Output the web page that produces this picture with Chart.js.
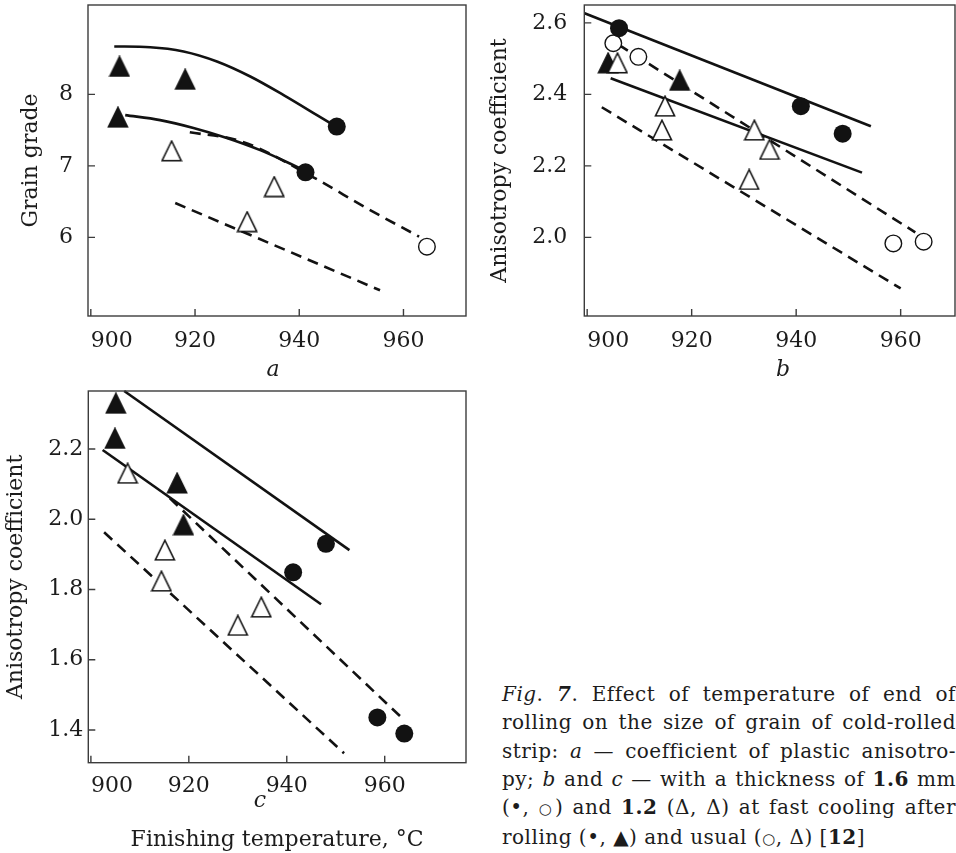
<!DOCTYPE html>
<html>
<head>
<meta charset="utf-8">
<script src="https://cdn.jsdelivr.net/npm/chart.js@4.4.1/dist/chart.umd.min.js"></script>
<style>
  body { margin: 0; background: #fff; width: 956px; height: 853px; position: relative; overflow: hidden;
         font-family: 'DejaVu Serif', serif; color: #1c1c1c; }
  canvas { position: absolute; }
  .sub { position: absolute; width: 40px; text-align: center; font-style: italic; font-size: 22px; line-height: 26px; }
  .cap { position: absolute; left: 502px; top: 680px; width: 454px; font-size: 20px; line-height: 28.3px; letter-spacing: 0.5px; }
  .cap div { text-align: justify; text-align-last: justify; }
  .cap div.last { text-align-last: left; }
  .ring { font-size: 15px; }
</style>
</head>
<body>
<canvas id="chartA" width="480" height="385" style="left:0;top:0"></canvas>
<canvas id="chartB" width="476" height="385" style="left:480px;top:0"></canvas>
<canvas id="chartC" width="480" height="468" style="left:0;top:385px"></canvas>
<div class="sub" style="left:253px;top:356px">a</div>
<div class="sub" style="left:763px;top:356px">b</div>
<div class="sub" style="left:240px;top:787px">c</div>
<div class="cap">
  <div><i>Fig</i>. <b><i>7</i></b>. Effect of temperature of end of</div>
  <div>rolling on the size of grain of cold-rolled</div>
  <div>strip: <i>a</i> — coefficient of plastic anisotro-</div>
  <div>py; <i>b</i> and <i>c</i> — with a thickness of <b>1.6</b> mm</div>
  <div>(•, <span class="ring">○</span>) and <b>1.2</b> (Δ, Δ) at fast cooling after</div>
  <div class="last">rolling (•, ▲) and usual (<span class="ring">○</span>, Δ) [<b>12</b>]</div>
</div>
<script>
// shared tick labels
const xTicks = [900, 920, 940, 960];
const aYTicks = [6, 7, 8];
const bYTicks = [2.0, 2.2, 2.4, 2.6];
const cYTicks = [1.4, 1.6, 1.8, 2.0, 2.2];

// panel a: grain grade
const aTempFilledDot = [947.2, 941.2];
const aGradeFilledDot = [7.55, 6.91];
const aTempOpenDot = [964.5];
const aGradeOpenDot = [5.87];
const aTempFilledTri = [905.5, 918.1, 905.2];
const aGradeFilledTri = [8.39, 8.21, 7.68];
const aTempOpenTri = [915.5, 935.2, 930.0];
const aGradeOpenTri = [7.21, 6.71, 6.22];
const aTempSolidUp = [904.5, 911.4, 917.8, 924.2, 930.6, 937.0, 943.4, 947.0];
const aGradeSolidUp = [8.67, 8.66, 8.60, 8.46, 8.25, 7.99, 7.71, 7.55];
const aTempSolidLow = [906.6, 913.3, 919.7, 926.1, 932.5, 938.9, 942.1];
const aGradeSolidLow = [7.71, 7.64, 7.53, 7.39, 7.22, 7.01, 6.90];
const aTempDashUp = [919.0, 929.0, 942.7, 952.9, 963.0];
const aGradeDashUp = [7.47, 7.34, 6.84, 6.41, 6.01];
const aTempDashLow = [916.2, 955.5];
const aGradeDashLow = [6.48, 5.26];

// panel b: anisotropy coefficient
const bTempFilledDot = [906.1, 940.9, 948.9];
const bCoefFilledDot = [2.585, 2.367, 2.29];
const bTempOpenDot = [905.0, 909.8, 958.6, 964.4];
const bCoefOpenDot = [2.543, 2.505, 1.983, 1.988];
const bTempFilledTri = [904.0, 917.7];
const bCoefFilledTri = [2.488, 2.439];
const bTempOpenTri = [905.8, 914.9, 914.3, 932.0, 934.9, 931.0];
const bCoefOpenTri = [2.488, 2.367, 2.30, 2.30, 2.246, 2.162];
const bTempSolidUp = [899.5, 954.3];
const bCoefSolidUp = [2.627, 2.311];
const bTempSolidLow = [904.5, 952.6];
const bCoefSolidLow = [2.445, 2.181];
const bTempDashUp = [906.0, 962.8];
const bCoefDashUp = [2.539, 2.014];
const bTempDashLow = [902.8, 960.0];
const bCoefDashLow = [2.364, 1.857];

// panel c: anisotropy coefficient
const cTempFilledDot = [948.0, 941.3, 958.5, 964.0];
const cCoefFilledDot = [1.93, 1.849, 1.436, 1.39];
const cTempFilledTri = [905.1, 904.9, 917.6, 918.9];
const cCoefFilledTri = [2.33, 2.23, 2.103, 1.984];
const cTempOpenTri = [907.5, 915.1, 914.4, 930.0, 934.8];
const cCoefOpenTri = [2.131, 1.912, 1.824, 1.698, 1.75];
const cTempSolidUp = [906.8, 952.8];
const cCoefSolidUp = [2.365, 1.912];
const cTempSolidLow = [902.4, 947.0];
const cCoefSolidLow = [2.197, 1.758];
const cTempDashUp = [916.1, 963.7];
const cCoefDashUp = [2.06, 1.432];
const cTempDashLow = [902.7, 951.7];
const cCoefDashLow = [1.963, 1.334];

const INK = '#121212';
const TEXT = '#1c1c1c';
const FONT = "'DejaVu Serif', serif";

function zip(xs, ys) {
  return xs.map((x, i) => ({x: x, y: ys[i]}));
}

function triangle(filled) {
  const c = document.createElement('canvas');
  c.width = 22; c.height = 22;
  const g = c.getContext('2d');
  g.beginPath();
  g.moveTo(11, 1.2);
  g.lineTo(20.6, 20.8);
  g.lineTo(1.4, 20.8);
  g.closePath();
  g.fillStyle = filled ? INK : '#fff';
  g.fill();
  g.lineWidth = 1.5;
  g.strokeStyle = INK;
  g.stroke();
  return c;
}
const triFilled = triangle(true);
const triOpen = triangle(false);

// box round the plot plus short inward tick marks
const frame = {
  id: 'frame',
  afterDraw(chart) {
    const {ctx, chartArea: a, scales} = chart;
    ctx.save();
    ctx.strokeStyle = '#3c3c3c';
    ctx.lineWidth = 1.4;
    ctx.strokeRect(a.left, a.top, a.right - a.left, a.bottom - a.top);
    ctx.beginPath();
    scales.x.ticks.forEach(t => {
      if (!xTicks.includes(t.value)) return;
      const px = scales.x.getPixelForValue(t.value);
      ctx.moveTo(px, a.bottom);
      ctx.lineTo(px, a.bottom - 7);
    });
    scales.y.ticks.forEach(t => {
      const py = scales.y.getPixelForValue(t.value);
      ctx.moveTo(a.left, py);
      ctx.lineTo(a.left + 7, py);
    });
    ctx.stroke();
    ctx.restore();
  }
};

function lineSet(xs, ys, dashed, curved) {
  return {
    data: zip(xs, ys), showLine: true, pointRadius: 0,
    borderColor: INK, borderWidth: 2.6,
    borderDash: dashed ? [11, 7] : [],
    cubicInterpolationMode: curved ? 'monotone' : 'default',
    order: 5, clip: 12
  };
}

function markSet(xs, ys, kind) {
  const s = {data: zip(xs, ys), showLine: false, order: 1, clip: false};
  if (kind === 'dot') Object.assign(s, {pointStyle: 'circle', pointRadius: 9, backgroundColor: INK, borderWidth: 0});
  if (kind === 'ring') Object.assign(s, {pointStyle: 'circle', pointRadius: 8.3, backgroundColor: '#fff', borderColor: INK, borderWidth: 1.4});
  if (kind === 'tri') Object.assign(s, {pointStyle: triFilled, pointRadius: 10});
  if (kind === 'otri') Object.assign(s, {pointStyle: triOpen, pointRadius: 10});
  return s;
}

function panel(id, o) {
  new Chart(document.getElementById(id), {
    type: 'scatter',
    data: {datasets: o.datasets},
    plugins: [frame],
    options: {
      responsive: false,
      animation: false,
      events: [],
      layout: {padding: o.pad, autoPadding: false},
      plugins: {legend: {display: false}, tooltip: {enabled: false}},
      scales: {
        x: {
          type: 'linear', min: o.xMin, max: o.xMax,
          afterBuildTicks: s => { s.ticks = xTicks.map(v => ({value: v})).concat([{value: s.max}]); },
          afterFit: s => { s.height = o.xh; s.paddingLeft = 0; s.paddingRight = 0; },
          grid: {display: false, drawTicks: false},
          border: {display: false},
          ticks: {
            autoSkip: false, maxRotation: 0, align: 'inner', padding: o.xpad,
            color: TEXT, font: {family: FONT, size: 22},
            callback: v => xTicks.includes(v) ? String(v) : ''
          },
          title: o.xTitle ? {
            display: true, text: o.xTitle, color: TEXT,
            font: {family: FONT, size: 22}, padding: {top: 0, bottom: 0}
          } : {display: false}
        },
        y: {
          type: 'linear', min: o.yMin, max: o.yMax,
          afterBuildTicks: s => { s.ticks = o.yTicks.map(v => ({value: v})); },
          afterFit: s => { s.width = o.yw; s.paddingTop = 0; s.paddingBottom = 0; },
          grid: {display: false, drawTicks: false},
          border: {display: false},
          ticks: {
            autoSkip: false, padding: o.ypad,
            color: TEXT, font: {family: FONT, size: 22},
            callback: v => o.fmt(v)
          },
          title: {
            display: true, text: o.yTitle, color: TEXT,
            font: {family: FONT, size: 22}, padding: {top: o.ytp, bottom: 0}
          }
        }
      }
    }
  });
}

panel('chartA', {
  pad: {left: 0, top: 5, right: 14, bottom: 0},
  xMin: 899.46, xMax: 972.0, yMin: 4.9, yMax: 9.25,
  xh: 69, yw: 88, xpad: 12, ypad: 15, ytp: 18.5,
  yTicks: aYTicks, fmt: v => String(v), yTitle: 'Grain grade',
  datasets: [
    lineSet(aTempSolidUp, aGradeSolidUp, false, true),
    lineSet(aTempSolidLow, aGradeSolidLow, false, true),
    lineSet(aTempDashUp, aGradeDashUp, true, true),
    lineSet(aTempDashLow, aGradeDashLow, true, false),
    markSet(aTempFilledDot, aGradeFilledDot, 'dot'),
    markSet(aTempOpenDot, aGradeOpenDot, 'ring'),
    markSet(aTempOpenTri, aGradeOpenTri, 'otri'),
    markSet(aTempFilledTri, aGradeFilledTri, 'tri')
  ]
});

panel('chartB', {
  pad: {left: 0, top: 5, right: 1, bottom: 0},
  xMin: 899.45, xMax: 970.4, yMin: 1.78, yMax: 2.65,
  xh: 69, yw: 104.3, xpad: 12, ypad: 17, ytp: 6.8,
  yTicks: bYTicks, fmt: v => v.toFixed(1), yTitle: 'Anisotropy coefficient',
  datasets: [
    lineSet(bTempSolidUp, bCoefSolidUp, false, false),
    lineSet(bTempSolidLow, bCoefSolidLow, false, false),
    lineSet(bTempDashUp, bCoefDashUp, true, false),
    lineSet(bTempDashLow, bCoefDashLow, true, false),
    markSet(bTempFilledDot, bCoefFilledDot, 'dot'),
    markSet(bTempOpenDot, bCoefOpenDot, 'ring'),
    markSet(bTempOpenTri, bCoefOpenTri, 'otri'),
    markSet(bTempFilledTri, bCoefFilledTri, 'tri')
  ]
});

panel('chartC', {
  pad: {left: 0, top: 6, right: 14, bottom: 0},
  xMin: 899.47, xMax: 976.6, yMin: 1.307, yMax: 2.365,
  xh: 90.3, yw: 88.3, xpad: 10, ypad: 5, ytp: 3.3,
  yTicks: cYTicks, fmt: v => v.toFixed(1), yTitle: 'Anisotropy coefficient',
  xTitle: 'Finishing temperature, °C',
  datasets: [
    lineSet(cTempSolidUp, cCoefSolidUp, false, false),
    lineSet(cTempSolidLow, cCoefSolidLow, false, false),
    lineSet(cTempDashUp, cCoefDashUp, true, false),
    lineSet(cTempDashLow, cCoefDashLow, true, false),
    markSet(cTempFilledDot, cCoefFilledDot, 'dot'),
    markSet(cTempOpenTri, cCoefOpenTri, 'otri'),
    markSet(cTempFilledTri, cCoefFilledTri, 'tri')
  ]
});
</script>
</body>
</html>
